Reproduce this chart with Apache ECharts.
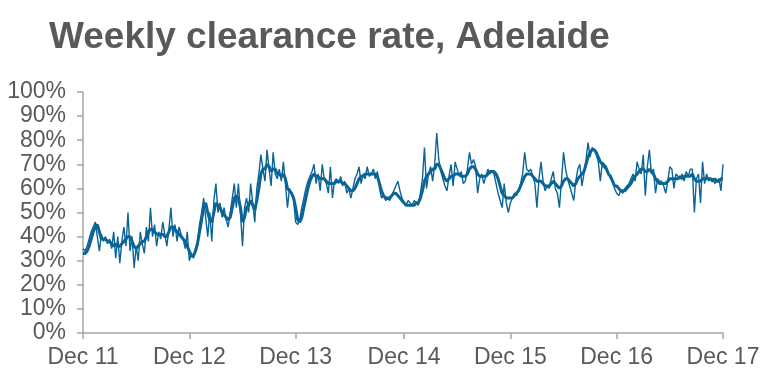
<!DOCTYPE html>
<html>
<head>
<meta charset="utf-8">
<script src="https://cdn.jsdelivr.net/npm/echarts@6/dist/echarts.min.js"></script>
<style>
html,body{margin:0;padding:0;background:#fff;}
#c{width:772px;height:390px;}
</style>
</head>
<body>
<div id="c"></div>
<script>
const titleText = 'Weekly clearance rate, Adelaide';
const tickWeeks = [0, 52, 104, 157, 209, 261, 313];
const tickLabels = ['Dec 11', 'Dec 12', 'Dec 13', 'Dec 14', 'Dec 15', 'Dec 16', 'Dec 17'];

// weekly clearance rate (%), thin line
const weekly2012 = [35,34,36,39,42,44,46,40,34,41,38,40,37,39,35,42,31,40,29,38,44,36,50,34,40,27,36,30,42,37,33,44,38,52,40,45,36,42,39,46,41,36,43,52,40,45,38,44,41,39,35,42];
const weekly2013 = [30,33,31,35,38,45,50,56,48,40,50,38,55,62,50,54,48,52,47,44,50,56,62,52,62,50,36,52,56,50,62,54,46,60,66,74,68,63,76,68,61,75,66,64,68,63,71,62,52,60,58,55,46];
const weekly2014 = [45,47,52,56,60,63,65,67,70,62,66,59,70,64,62,58,69,56,63,64,62,65,61,63,58,60,56,60,64,66,69,62,66,64,69,65,66,68,64,67,60,56,57,55,56,55,57,59,61,63,59,56];
const weekly2015 = [54,53,55,54,53,55,54,53,58,64,77,60,66,69,63,70,83,72,67,64,61,59,65,70,61,71,68,65,67,62,63,68,75,70,72,69,58,64,66,62,65,68,66,67,66,62,58,55,52,62,54,50];
const weekly2016 = [54,56,58,57,59,62,66,75,68,67,68,65,62,52,64,71,63,59,61,60,64,67,60,58,52,63,75,68,64,61,58,55,63,68,70,61,66,72,79,73,77,76,74,71,63,71,70,69,66,64,63,60];
const weekly2017 = [58,57,59,58,60,61,62,64,66,63,71,68,66,74,57,69,76,66,68,58,64,63,63,61,58,63,69,68,60,66,65,64,66,63,67,65,68,68,50,64,66,54,71,62,66,63,64,64,62,63,64,59,70];

// smoothed clearance rate (%), thick line
const smooth2012 = [33,33,34,36,39,42,44,45,42,39,39,39,38,38,37,36,37,36,36,37,38,39,40,40,38,36,35,36,37,38,38,40,42,43,43,42,41,41,41,41,40,40,42,44,44,43,42,41,40,39,38,36];
const smooth2013 = [34,32,32,34,37,42,47,52,54,50,47,46,50,54,53,52,50,49,48,47,48,52,56,57,56,52,46,48,52,53,55,53,51,55,60,66,68,68,70,69,67,68,68,66,66,65,66,64,60,59,58,56,52];
const smooth2014 = [47,46,48,52,56,60,63,65,66,65,65,64,64,64,63,62,62,62,62,63,63,63,62,62,61,60,59,59,60,62,64,65,65,66,66,66,66,66,66,65,62,59,57,56,56,56,57,58,58,57,56,55];
const smooth2015 = [54,53,53,53,53,53,54,54,56,59,63,65,66,67,68,68,70,70,68,66,64,63,64,65,65,66,66,66,65,65,65,66,68,69,69,68,66,65,65,65,65,66,67,67,67,66,64,61,58,57,56,56];
const smooth2016 = [56,56,57,58,59,61,63,65,66,66,66,65,64,63,63,63,62,61,61,61,62,63,62,61,60,61,63,64,64,63,62,61,62,64,65,66,67,70,73,75,76,76,75,73,71,70,69,68,66,65,63,61];
const smooth2017 = [61,60,59,59,59,60,61,62,64,65,66,67,68,68,67,67,68,67,66,64,63,62,62,62,62,63,64,64,64,64,64,65,64,65,65,65,65,66,64,63,63,63,64,64,64,64,64,63,64,63,63,64,64];

const weekly = [].concat(weekly2012, weekly2013, weekly2014, weekly2015, weekly2016, weekly2017);
const smooth = [].concat(smooth2012, smooth2013, smooth2014, smooth2015, smooth2016, smooth2017);

const lineColor = '#0a6496';
const textColor = '#595959';
const axisColor = '#a6a6a6';
const font = 'Liberation Sans, Arial, sans-serif';

const chart = echarts.init(document.getElementById('c'), null, {renderer: 'canvas'});
chart.setOption({
  animation: false,
  backgroundColor: '#ffffff',
  title: {
    text: titleText,
    left: 44,
    top: 14,
    textStyle: {fontFamily: font, fontSize: 37, fontWeight: 'bold', color: textColor}
  },
  grid: {left: 83, right: 49, top: 92, bottom: 57, containLabel: false},
  xAxis: {
    type: 'value',
    min: 0,
    max: 313,
    splitLine: {show: false},
    axisLine: {show: true, lineStyle: {color: axisColor, width: 1.5}},
    axisTick: {show: true, length: 6, customValues: tickWeeks, lineStyle: {color: axisColor, width: 1.5}},
    axisLabel: {
      customValues: tickWeeks,
      formatter: function (v) { return tickLabels[tickWeeks.indexOf(v)]; },
      fontFamily: font, fontSize: 23, color: textColor, margin: 13
    }
  },
  yAxis: {
    type: 'value',
    min: 0,
    max: 100,
    interval: 10,
    splitLine: {show: false},
    axisLine: {show: true, lineStyle: {color: axisColor, width: 1.5}},
    axisTick: {show: true, length: 6, lineStyle: {color: axisColor, width: 1.5}},
    axisLabel: {formatter: '{value}%', fontFamily: font, fontSize: 23, color: textColor, margin: 17}
  },
  series: [
    {
      type: 'line',
      data: weekly.map(function (v, i) { return [i, v]; }),
      showSymbol: false,
      lineStyle: {color: lineColor, width: 1.4},
      itemStyle: {color: lineColor}
    },
    {
      type: 'line',
      data: smooth.map(function (v, i) { return [i, v]; }),
      showSymbol: false,
      lineStyle: {color: lineColor, width: 3},
      itemStyle: {color: lineColor}
    }
  ]
});
</script>
</body>
</html>
